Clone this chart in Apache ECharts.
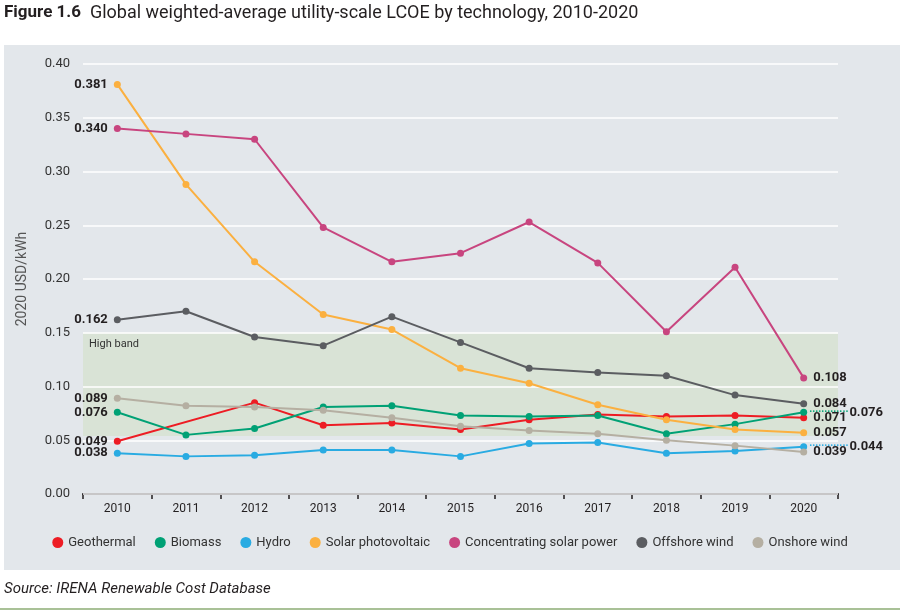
<!DOCTYPE html>
<html lang="en">
<head>
    <meta charset="UTF-8">
    <title>Global weighted-average utility-scale LCOE by technology</title>
    <style>
        html, body { margin: 0; padding: 0; background: #fff; }
        #main { width: 900px; height: 612px; }
    </style>
</head>
<body>
<div id="main"></div>
<script src="https://cdn.jsdelivr.net/npm/echarts@6/dist/echarts.min.js"></script>
<script>
    const years = ['2010', '2011', '2012', '2013', '2014', '2015', '2016', '2017', '2018', '2019', '2020'];
    const seriesNames = ['Geothermal', 'Biomass', 'Hydro', 'Solar photovoltaic', 'Concentrating solar power', 'Offshore wind', 'Onshore wind'];
    const colors = ['#ed1c24', '#00a175', '#29abe2', '#fbb040', '#c8457f', '#5b5d61', '#b5afa2'];

    // USD/kWh
    const geothermal = [0.049, null, 0.085, 0.064, 0.066, 0.060, 0.069, 0.074, 0.072, 0.073, 0.071];
    const biomass    = [0.076, 0.055, 0.061, 0.081, 0.082, 0.073, 0.072, 0.073, 0.056, 0.065, 0.076];
    const hydro      = [0.038, 0.035, 0.036, 0.041, 0.041, 0.035, 0.047, 0.048, 0.038, 0.040, 0.044];
    const solarPv    = [0.381, 0.288, 0.216, 0.167, 0.153, 0.117, 0.103, 0.083, 0.069, 0.060, 0.057];
    const csp        = [0.340, 0.335, 0.330, 0.248, 0.216, 0.224, 0.253, 0.215, 0.151, 0.211, 0.108];
    const offshore   = [0.162, 0.170, 0.146, 0.138, 0.165, 0.141, 0.117, 0.113, 0.110, 0.092, 0.084];
    const onshore    = [0.089, 0.082, 0.081, 0.078, 0.071, 0.063, 0.059, 0.056, 0.050, 0.045, 0.039];
    const allValues = [geothermal, biomass, hydro, solarPv, csp, offshore, onshore];

    const highBand = [0.054, 0.15];
    // end labels pushed out to the right with a dotted leader
    const pushedRight = ['Biomass', 'Hydro'];
    const leader = '\u00b7'.repeat(13);

    const myChart = echarts.init(document.getElementById('main'));
    const textColor = '#231f20';
    const font = 'Roboto, "DejaVu Sans", sans-serif';

    const lineSeries = seriesNames.map((name, i) => {
        const vals = allValues[i];
        const last = vals.length - 1;
        const pushed = pushedRight.includes(name);
        return {
            name: name,
            type: 'line',
            z: 3,
            connectNulls: true,
            symbol: 'circle',
            symbolSize: 7,
            lineStyle: { width: 2, color: colors[i] },
            itemStyle: { color: colors[i] },
            data: vals.map((v, j) => ({
                value: v,
                label: {
                    show: v !== null && (j === 0 || j === last),
                    position: j === 0 ? 'left' : 'right',
                    distance: (j === last && pushed) ? 2 : 6,
                    formatter: d => (j === last && pushed)
                        ? '{l|' + leader + '}{v|' + d.value.toFixed(3) + '}'
                        : d.value.toFixed(3),
                    fontFamily: font,
                    fontWeight: 'bold',
                    fontSize: 13,
                    color: textColor,
                    rich: {
                        l: { fontSize: 10, fontWeight: 'bold', color: colors[i], fontFamily: font },
                        v: { fontFamily: font, fontWeight: 'bold', fontSize: 13, color: textColor, padding: [0, 0, 0, 1] }
                    }
                }
            }))
        };
    });

    const option = {
        color: colors,
        textStyle: { fontFamily: font },
        graphic: [
            {
                type: 'rect', z: -10, silent: true,
                shape: { x: 4, y: 45, width: 896, height: 525 },
                style: { fill: '#e3e7eb' }
            },
            {
                type: 'text', left: 4, top: 4,
                style: {
                    text: '{b|Figure 1.6}  Global weighted-average utility-scale LCOE by technology, 2010-2020',
                    rich: { b: { fontWeight: 'bold', fontSize: 17, fill: textColor, fontFamily: font } },
                    fontSize: 18, fill: textColor, fontFamily: font
                }
            },
            {
                type: 'text', left: 4, top: 582,
                style: { text: 'Source: IRENA Renewable Cost Database', fontStyle: 'italic', fontSize: 15, fill: textColor, fontFamily: font }
            },
            {
                type: 'rect', silent: true,
                shape: { x: 0, y: 608, width: 900, height: 2 },
                style: { fill: '#a9c197' }
            }
        ],
        legend: {
            bottom: 58,
            left: 'center',
            icon: 'circle',
            itemWidth: 11,
            itemHeight: 11,
            itemGap: 19,
            data: seriesNames,
            textStyle: { fontSize: 13, color: '#333', fontFamily: font }
        },
        grid: { left: 83, right: 62, top: 64, bottom: 118, outerBoundsMode: 'none' },
        xAxis: {
            type: 'category',
            data: years,
            boundaryGap: true,
            axisLine: { lineStyle: { color: textColor, width: 2 } },
            axisTick: { show: true, length: 5, lineStyle: { color: textColor, width: 1.5 } },
            axisLabel: { color: textColor, fontSize: 12, margin: 9 },
            splitLine: { show: false }
        },
        yAxis: {
            type: 'value',
            z: 2,
            min: 0,
            max: 0.4,
            interval: 0.05,
            name: '2020 USD/kWh',
            nameLocation: 'middle',
            nameGap: 54,
            nameTextStyle: { color: '#555', fontSize: 14 },
            axisLine: { show: false },
            axisTick: { show: false },
            axisLabel: { color: '#333', fontSize: 13, margin: 13, formatter: v => v.toFixed(2) },
            splitLine: { lineStyle: { color: '#ffffff', width: 1.5 } }
        },
        series: [
            {
                name: 'band',
                type: 'line',
                z: 1,
                data: [],
                markArea: {
                    silent: true,
                    itemStyle: { color: '#d9e3d6' },
                    label: { show: true, position: 'insideTopLeft', color: '#333', fontSize: 11, distance: 6 },
                    data: [[{ name: 'High band', yAxis: highBand[0] }, { yAxis: highBand[1] }]]
                }
            },
            ...lineSeries
        ]
    };

    myChart.setOption(option);
</script>
</body>
</html>
